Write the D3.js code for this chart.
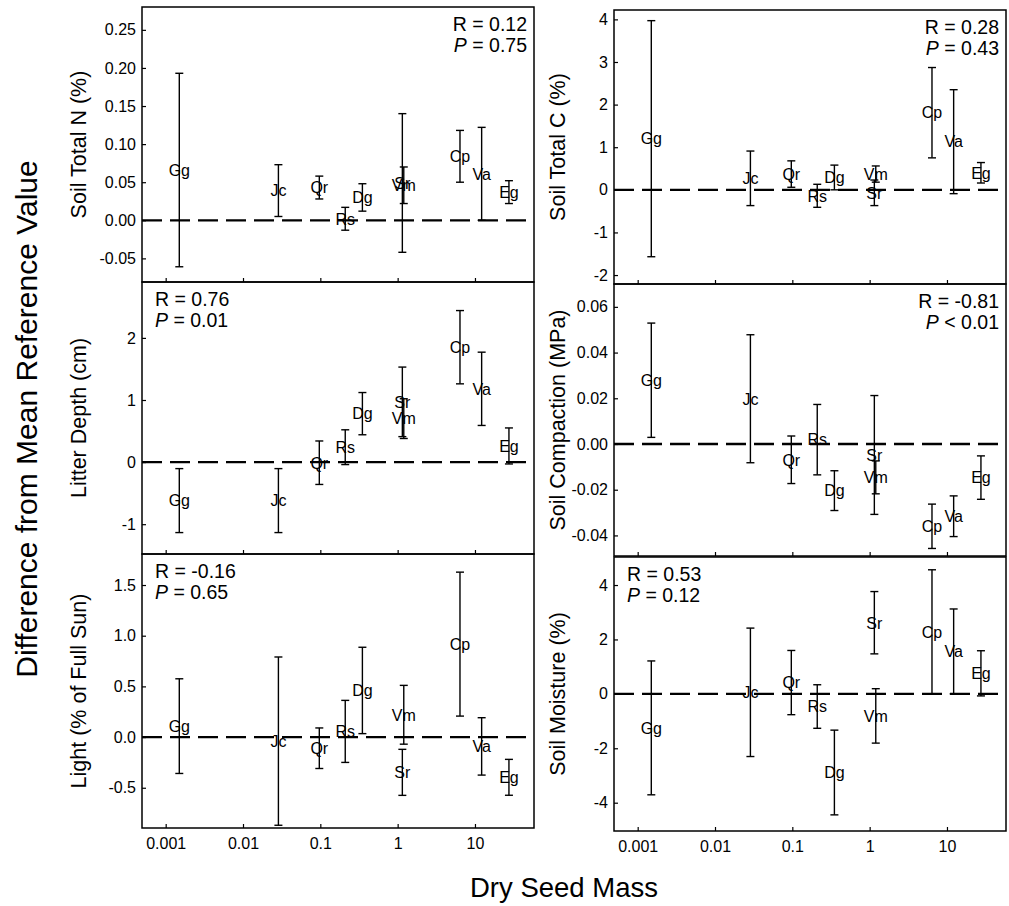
<!DOCTYPE html>
<html>
<head>
<meta charset="utf-8">
<script src="https://cdn.jsdelivr.net/npm/d3@7"></script>
<style>
body { margin: 0; background: #fff; }
svg text { font-family: "Liberation Sans", Arial, sans-serif; fill: #000; }
</style>
</head>
<body>
<div id="chart"></div>
<script>
// species and dry seed mass (g)
const species = ['Gg', 'Jc', 'Qr', 'Rs', 'Dg', 'Sr', 'Vm', 'Cp', 'Va', 'Eg'];
const seedMass = [0.0015, 0.0287, 0.097, 0.21, 0.35, 1.15, 1.2, 6.4, 12.2, 27.5];
const massTicks = [0.001, 0.01, 0.1, 1, 10];
const massTickLabels = ['0.001', '0.01', '0.1', '1', '10'];

// difference from mean reference value (mean, error)
const nMean = [0.066, 0.039, 0.043, 0.002, 0.030, 0.049, 0.046, 0.084, 0.061, 0.037];
const nErr = [0.127, 0.034, 0.015, 0.015, 0.018, 0.091, 0.024, 0.034, 0.061, 0.015];
const cMean = [1.20, 0.27, 0.37, -0.14, 0.29, -0.07, 0.37, 1.81, 1.13, 0.40];
const cErr = [2.77, 0.64, 0.31, 0.27, 0.29, 0.30, 0.19, 1.06, 1.22, 0.24];
const litterMean = [-0.62, -0.62, -0.01, 0.24, 0.78, 0.97, 0.70, 1.85, 1.18, 0.26];
const litterErr = [0.515, 0.515, 0.35, 0.28, 0.34, 0.56, 0.32, 0.59, 0.59, 0.29];
const compMean = [0.0279, 0.0198, -0.0069, 0.0019, -0.0204, -0.0048, -0.0146, -0.0360, -0.0316, -0.0147];
const compErr = [0.025, 0.028, 0.0104, 0.0154, 0.0087, 0.026, 0.0072, 0.0097, 0.0089, 0.0095];
const lightMean = [0.108, -0.04, -0.11, 0.056, 0.46, -0.348, 0.22, 0.917, -0.092, -0.397];
const lightErr = [0.467, 0.83, 0.20, 0.306, 0.426, 0.227, 0.29, 0.71, 0.283, 0.177];
const moistMean = [-1.25, 0.057, 0.415, -0.465, -2.89, 2.615, -0.81, 2.28, 1.56, 0.755];
const moistErr = [2.46, 2.36, 1.18, 0.80, 1.557, 1.145, 1.00, 2.28, 1.56, 0.83];

// y tick values
const nTicks = [-0.05, 0, 0.05, 0.10, 0.15, 0.20, 0.25];
const cTicks = [-2, -1, 0, 1, 2, 3, 4];
const litterTicks = [-1, 0, 1, 2];
const compTicks = [-0.04, -0.02, 0, 0.02, 0.04, 0.06];
const lightTicks = [-0.5, 0, 0.5, 1.0, 1.5];
const moistTicks = [-4, -2, 0, 2, 4];

// panel titles and stats
const panelTitles = ['Soil Total N (%)', 'Soil Total C (%)', 'Litter Depth (cm)', 'Soil Compaction (MPa)', 'Light (% of Full Sun)', 'Soil Moisture (%)'];
const rValues = ['0.12', '0.28', '0.76', '-0.81', '-0.16', '0.53'];
const pValues = ['= 0.75', '= 0.43', '= 0.01', '< 0.01', '= 0.65', '= 0.12'];

const width = 1009, height = 906;
const FONT = '"Liberation Sans", Arial, sans-serif';

let svg = d3.select('#chart')
    .append('svg')
    .attr('width', width)
    .attr('height', height);

//Paneles
let panels = [
    {mean: nMean, err: nErr, ticks: nTicks, fmt: '.2f', dom: [-0.081, 0.28], box: [142, 534, 7, 282], stats: 'right', bottom: false},
    {mean: cMean, err: cErr, ticks: cTicks, fmt: 'd', dom: [-2.21, 4.22], box: [614, 1006, 10, 284], stats: 'right', bottom: false},
    {mean: litterMean, err: litterErr, ticks: litterTicks, fmt: 'd', dom: [-1.48, 2.9], box: [142, 534, 282, 554], stats: 'left', bottom: false},
    {mean: compMean, err: compErr, ticks: compTicks, fmt: '.2f', dom: [-0.049, 0.070], box: [614, 1006, 284, 556], stats: 'right', bottom: false},
    {mean: lightMean, err: lightErr, ticks: lightTicks, fmt: '.1f', dom: [-0.897, 1.806], box: [142, 534, 554, 828], stats: 'left', bottom: true},
    {mean: moistMean, err: moistErr, ticks: moistTicks, fmt: 'd', dom: [-5.04, 5.03], box: [614, 1006, 557, 831], stats: 'left', bottom: true}
];

panels.forEach(function(p, k) {
    let [x0, x1, y0, y1] = p.box;

    let x = d3.scaleLog()
        .domain([0.000494, 58])
        .range([x0, x1]);

    let y = d3.scaleLinear()
        .domain(p.dom)
        .range([y1, y0]);

    let g = svg.append('g').attr('class', 'panel_' + k);

    let f = d3.format(p.fmt);

    //Eje Y
    g.append('g')
        .attr('transform', 'translate(' + x0 + ',0)')
        .call(d3.axisLeft(y).tickValues(p.ticks).tickSizeInner(-4).tickSizeOuter(0).tickPadding(6)
            .tickFormat(function(d) { return f(d).replace('\u2212', '-'); }))
        .call(function(g) { g.select('.domain').remove(); })
        .call(function(g) {
            g.selectAll('.tick line').attr('stroke', '#000').attr('stroke-width', 1.2);
            g.selectAll('.tick text').attr('font-size', 16).attr('font-family', FONT).attr('fill', '#000');
        });

    //Eje X
    g.append('g')
        .attr('transform', 'translate(0,' + y1 + ')')
        .call(d3.axisBottom(x).tickValues(massTicks).tickSizeInner(-4).tickSizeOuter(0).tickPadding(10)
            .tickFormat(function(d, i) { return p.bottom ? massTickLabels[i] : ''; }))
        .call(function(g) { g.select('.domain').remove(); })
        .call(function(g) {
            g.selectAll('.tick line').attr('stroke', '#000').attr('stroke-width', 1.2);
            g.selectAll('.tick text').attr('font-size', 16).attr('font-family', FONT).attr('fill', '#000');
        });

    //Línea de referencia
    g.append('line')
        .attr('x1', x0).attr('x2', x1)
        .attr('y1', y(0)).attr('y2', y(0))
        .attr('stroke', '#000')
        .attr('stroke-width', 2.3)
        .attr('stroke-dasharray', '20,8');

    //Barras de error
    let bars = g.selectAll('.bar')
        .data(species.map(function(s, i) { return {sp: s, m: seedMass[i], v: p.mean[i], e: p.err[i]}; }))
        .enter()
        .append('g')
        .attr('class', 'bar');

    bars.append('line')
        .attr('x1', function(d) { return x(d.m); })
        .attr('x2', function(d) { return x(d.m); })
        .attr('y1', function(d) { return y(d.v - d.e); })
        .attr('y2', function(d) { return y(d.v + d.e); })
        .attr('stroke', '#000').attr('stroke-width', 1.4);

    [-1, 1].forEach(function(s) {
        bars.append('line')
            .attr('x1', function(d) { return x(d.m) - 4; })
            .attr('x2', function(d) { return x(d.m) + 4; })
            .attr('y1', function(d) { return y(d.v + s * d.e); })
            .attr('y2', function(d) { return y(d.v + s * d.e); })
            .attr('stroke', '#000').attr('stroke-width', 1.4);
    });

    bars.append('text')
        .attr('x', function(d) { return x(d.m); })
        .attr('y', function(d) { return y(d.v) + 5.8; })
        .attr('text-anchor', 'middle')
        .attr('font-size', 16)
        .text(function(d) { return d.sp; });

    //Marco
    g.append('rect')
        .attr('x', x0).attr('y', y0)
        .attr('width', x1 - x0).attr('height', y1 - y0)
        .attr('fill', 'none')
        .attr('stroke', '#000')
        .attr('stroke-width', 1.5);

    //Título del eje Y
    let cx = k % 2 == 0 ? 78 : 557;
    g.append('text')
        .attr('transform', 'translate(' + cx + ',' + ((y0 + y1) / 2) + ') rotate(-90)')
        .attr('text-anchor', 'middle')
        .attr('dy', '0.35em')
        .attr('font-size', 21.5)
        .text(panelTitles[k]);

    //Estadísticos
    let sx = p.stats == 'right' ? x1 - 7 : x0 + 13;
    let anchor = p.stats == 'right' ? 'end' : 'start';
    g.append('text')
        .attr('x', sx).attr('y', y0 + 24)
        .attr('text-anchor', anchor)
        .attr('font-size', 19.5)
        .text('R = ' + rValues[k]);
    let pt = g.append('text')
        .attr('x', sx).attr('y', y0 + 45)
        .attr('text-anchor', anchor)
        .attr('font-size', 19.5);
    pt.append('tspan').attr('font-style', 'italic').text('P');
    pt.append('tspan').text(' ' + pValues[k]);
});

//Títulos generales
svg.append('text')
    .attr('transform', 'translate(26,419) rotate(-90)')
    .attr('text-anchor', 'middle')
    .attr('dy', '0.35em')
    .attr('font-size', 30)
    .text('Difference from Mean Reference Value');

svg.append('text')
    .attr('x', 564).attr('y', 897)
    .attr('text-anchor', 'middle')
    .attr('font-size', 27.5)
    .text('Dry Seed Mass');
</script>
</body>
</html>
